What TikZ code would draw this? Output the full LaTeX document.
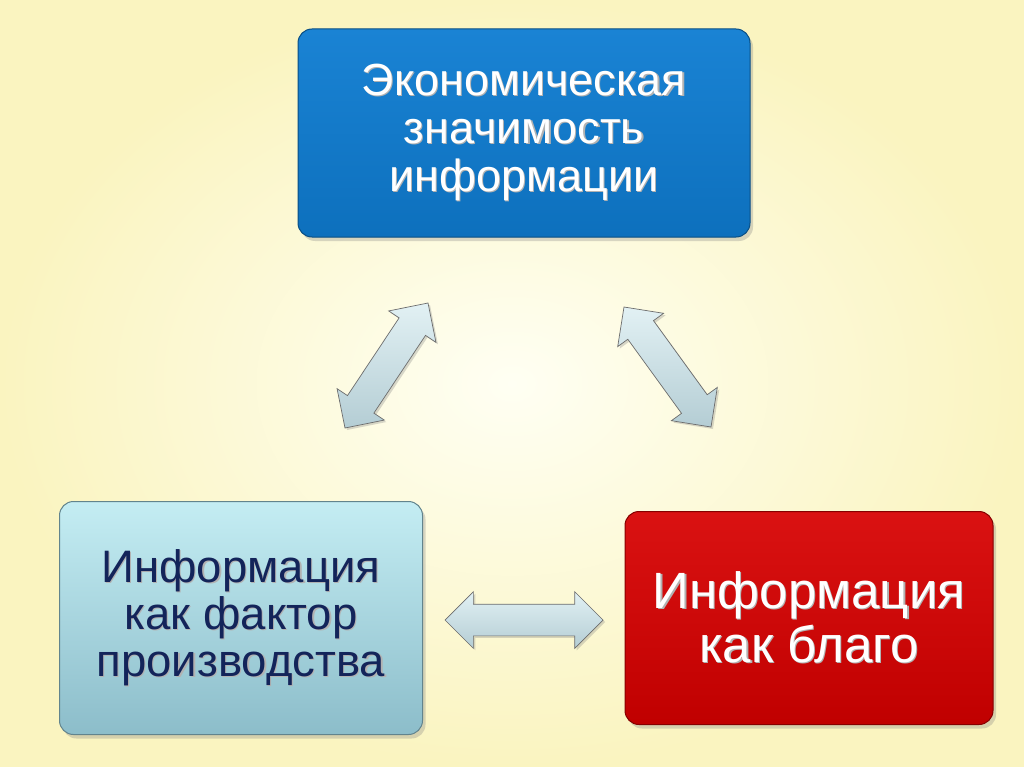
\documentclass[tikz,border=0pt]{standalone}
\usepackage{fontspec}
\setmainfont{Liberation Sans}
\usetikzlibrary{shapes.arrows,shadows,calc}
\definecolor{bgin}{HTML}{FFFFF3}
\definecolor{bgout}{HTML}{FAF4C0}
\definecolor{bluetop}{HTML}{1A83D4}
\definecolor{bluebot}{HTML}{0D70BD}
\definecolor{cyantop}{HTML}{C4EDF3}
\definecolor{cyanbot}{HTML}{8CBDCA}
\definecolor{redtop}{HTML}{DA1212}
\definecolor{redbot}{HTML}{C00000}
\definecolor{navy}{HTML}{13245A}
\definecolor{arrtop}{HTML}{E2F1F4}
\definecolor{arrbot}{HTML}{B4CDD4}
\newcommand\shd[1]{\rlap{\hspace{1.2pt}\raisebox{-1.2pt}{\textcolor{black!30}{#1}}}#1}

\begin{document}
\begin{tikzpicture}[x=1pt,y=-1pt,
  box/.style={rounded corners=14pt, line width=1pt, align=center,
    drop shadow={shadow xshift=3pt,shadow yshift=-4pt,opacity=0.3}},
  dblarr/.style={double arrow, double arrow head extend=12.5pt, inner sep=15.5pt,
    draw=gray!85!black, line width=0.7pt, top color=arrtop, bottom color=arrbot,
    drop shadow={shadow xshift=2pt,shadow yshift=-2pt,opacity=0.3}}]
\useasboundingbox (0,0) rectangle (1024,767);
\shade[inner color=bgin, outer color=bgout] (0,0) rectangle (1024,767);

\node[box, draw=bluebot!70!black, top color=bluetop, bottom color=bluebot,
  minimum width=452pt, minimum height=208pt, text=white,
  font=\fontsize{45}{48}\selectfont] (econ) at (524,133)
  {\shd{Экономическая}\\\shd{значимость}\\\shd{информации}};
\node[box, draw=cyanbot!70!black, top color=cyantop, bottom color=cyanbot,
  minimum width=363pt, minimum height=233pt, text=navy,
  font=\fontsize{45.5}{47}\selectfont] (factor) at (241,618)
  {\shd{Информация}\\\shd{как фактор}\\\shd{производства}};
\node[box, draw=redbot!70!black, top color=redtop, bottom color=redbot,
  minimum width=368pt, minimum height=213pt, text=white,
  font=\fontsize{51}{54}\selectfont] (good) at (809,618)
  {\shd{Информация}\\\shd{как благо}};

\coordinate (a1) at (345,428);
\coordinate (a2) at (428,303);
\coordinate (b1) at (624,307);
\coordinate (b2) at (711,427);
\coordinate (c1) at (445,620);
\coordinate (c2) at (603,620);

\foreach \s/\t in {a1/a2, b1/b2, c1/c2}
  \path let \p1=(\s), \p2=(\t), \n1={atan2(\y2-\y1,\x2-\x1)},
    \n2={veclen(\x2-\x1,\y2-\y1)} in
    node[dblarr, minimum height=\n2, rotate=\n1] at ($(\s)!0.5!(\t)$) {};
\end{tikzpicture}
\end{document}
